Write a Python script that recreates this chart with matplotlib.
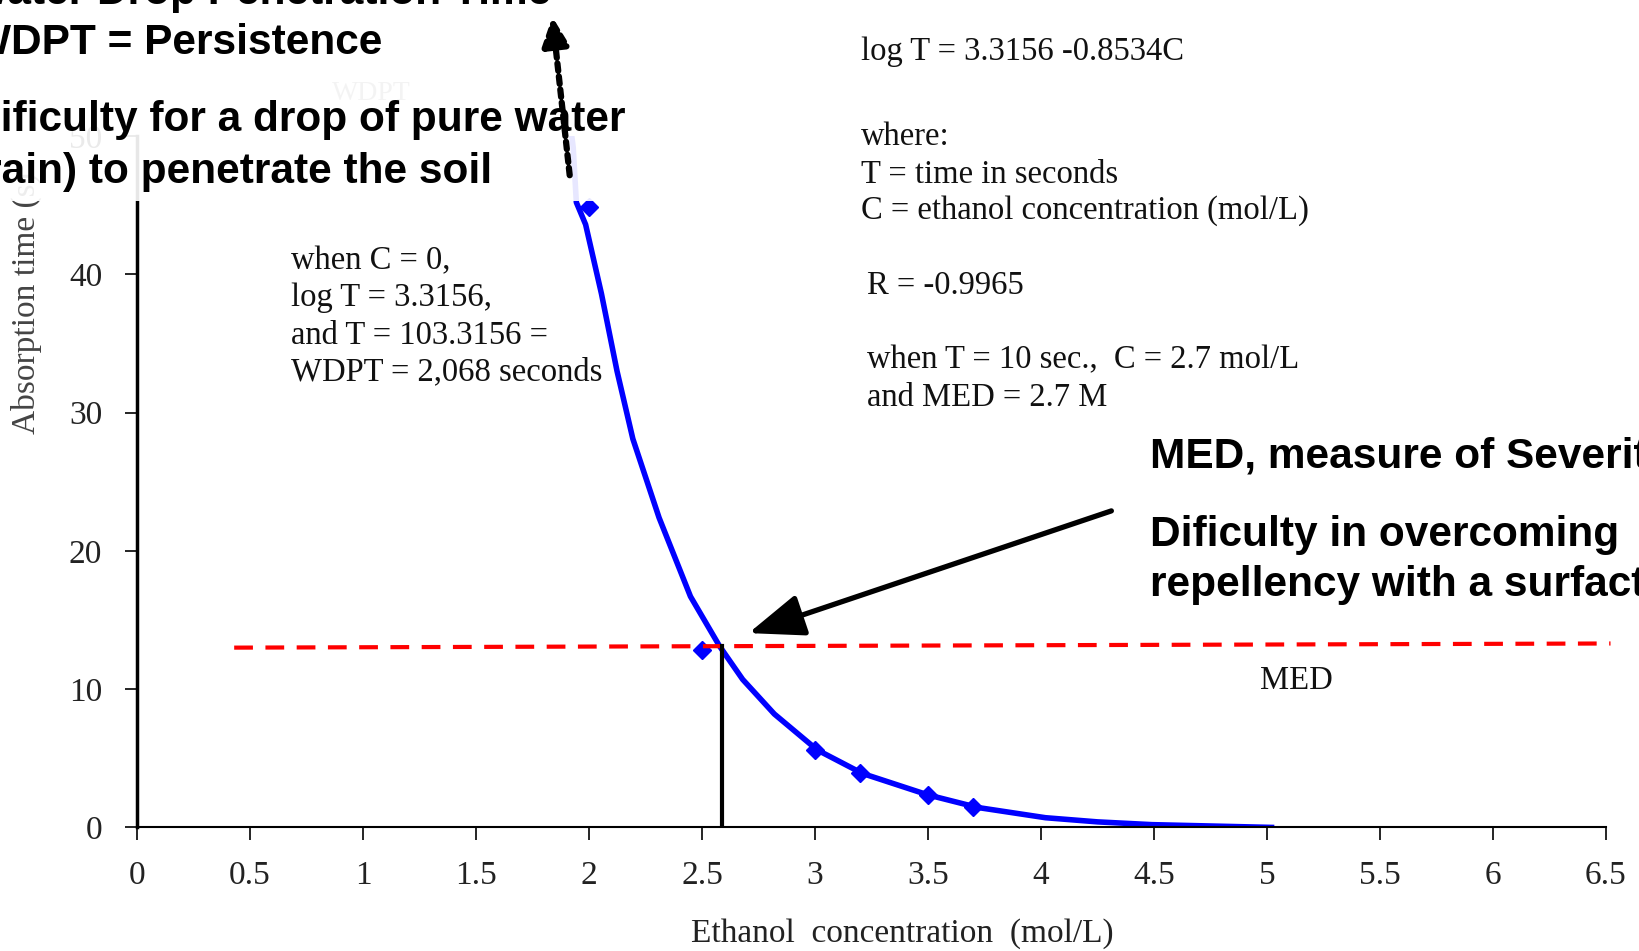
import numpy as np
import matplotlib.pyplot as plt
from matplotlib.patches import Rectangle, FancyArrowPatch

# fitted curve (C in mol/L, T in seconds)
curve_c = [1.90, 1.93, 1.944, 1.985, 2.055, 2.124, 2.194, 2.31, 2.449, 2.578,
           2.68, 2.82, 3.01, 3.21, 3.5, 3.72, 4.02, 4.25, 4.49, 5.02]
curve_t = [53.0, 49.2, 45.2, 43.6, 38.6, 33.0, 28.1, 22.4, 16.7, 13.1,
           10.7, 8.2, 5.6, 3.9, 2.35, 1.44, 0.7, 0.4, 0.2, 0.0]

# measured points
pts_c = [2.0, 2.5, 3.0, 3.2, 3.5, 3.7]
pts_t = [44.9, 12.8, 5.6, 3.9, 2.35, 1.5]

# MED line and drop line
med_c = [0.43, 6.52]
med_t = [13.0, 13.3]
med_x = 2.587

x_ticks = [0, 0.5, 1, 1.5, 2, 2.5, 3, 3.5, 4, 4.5, 5, 5.5, 6, 6.5]
x_labels = ['0', '0.5', '1', '1.5', '2', '2.5', '3', '3.5', '4', '4.5', '5', '5.5', '6', '6.5']
y_ticks = [0, 10, 20, 30, 40, 50]

W, H = 1640, 951


def fx(px):
    return px / W


def fy(py):
    return 1 - py / H


serif = 'Liberation Serif'
sans = 'Liberation Sans'

fig = plt.figure(figsize=(16.4, 9.51), dpi=100)
ax = fig.add_axes([fx(137), fy(827.4), 1469 / W, (827.4 - 136) / H])

ax.plot(curve_c, curve_t, color='#0000FF', lw=4, solid_joinstyle='round')
ax.plot(pts_c, pts_t, 'D', color='#0000FF', ms=9)
ax.plot(med_c, med_t, color='#FF0000', lw=3, dashes=(4.5, 3), clip_on=False)
ax.plot([med_x, med_x], [0, 13.1], color='black', lw=3)

ax.set_xlim(0, 6.5)
ax.set_ylim(0, 50)
ax.spines['top'].set_visible(False)
ax.spines['right'].set_visible(False)
ax.spines['left'].set_linewidth(2.5)
ax.spines['bottom'].set_linewidth(1.5)
ax.set_xticks(x_ticks)
ax.set_xticklabels(x_labels)
ax.set_yticks(y_ticks)
ax.tick_params(direction='out', length=9, width=1.2, labelsize=24,
               labelcolor='#222222')
ax.tick_params(axis='x', pad=15)
ax.tick_params(axis='y', pad=16)
for lab in ax.get_xticklabels() + ax.get_yticklabels():
    lab.set_family(serif)

# axis titles
fig.text(fx(902), fy(934), 'Ethanol  concentration  (mol/L)', family=serif,
         fontsize=24, color='#222222', ha='center', va='center')
fig.text(fx(26), fy(434), 'Absorption time (s)', family=serif, fontsize=24,
         color='#444444', rotation=90, ha='center', va='bottom')

# serif notes
notes = [
    (861, 60, 'log T = 3.3156 -0.8534C'),
    (861, 145, 'where:'),
    (861, 183, 'T = time in seconds'),
    (861, 219, 'C = ethanol concentration (mol/L)'),
    (867, 294, 'R = -0.9965'),
    (867, 368, 'when T = 10 sec.,  C = 2.7 mol/L'),
    (867, 406, 'and MED = 2.7 M'),
    (291, 269, 'when C = 0,'),
    (291, 306, 'log T = 3.3156,'),
    (291, 344, 'and T = 103.3156 ='),
    (291, 380, 'WDPT = 2,068 seconds'),
    (1260, 689, 'MED'),
]
for px, py, s in notes:
    fig.text(fx(px), fy(py), s, family=serif, fontsize=23.5, color='#111111',
             va='baseline')

# faint label under the white box
fig.text(fx(371), fy(94), 'WDPT', family=serif, fontsize=20, color='#888888',
         ha='center', va='center', zorder=4)

# white box over the upper left part
fig.add_artist(Rectangle((-0.01, fy(201)), fx(640) + 0.01, 201 / H + 0.01,
                         transform=fig.transFigure, facecolor='white',
                         edgecolor='none', alpha=0.91, zorder=5))

# bold captions, left block is placed by its right end
left_bold = [
    (551, 4, 'Water Drop Penetration Time'),
    (382, 54, 'WDPT = Persistence'),
    (626, 131, 'Dificulty for a drop of pure water'),
    (492, 183, '(rain) to penetrate the soil'),
]
for px, py, s in left_bold:
    fig.text(fx(px), fy(py), s, family=sans, fontsize=30.5, fontweight='bold',
             color='black', ha='right', va='baseline', zorder=6)

right_bold = [
    (1150, 468, 'MED, measure of Severity'),
    (1150, 546, 'Dificulty in overcoming'),
    (1150, 596, 'repellency with a surfactant'),
]
for px, py, s in right_bold:
    fig.text(fx(px), fy(py), s, family=sans, fontsize=30.5, fontweight='bold',
             color='black', va='baseline', zorder=6)

# arrows
fig.add_artist(FancyArrowPatch((fx(570), fy(178)), (fx(552), fy(14)),
                               transform=fig.transFigure,
                               arrowstyle='-|>,head_length=17,head_width=8',
                               mutation_scale=1, lw=4.5, linestyle=(0, (1.2, 0.9)),
                               color='black', zorder=6))
fig.add_artist(FancyArrowPatch((fx(1114), fy(510)), (fx(746), fy(634)),
                               transform=fig.transFigure,
                               arrowstyle='-|>,head_length=34,head_width=13',
                               mutation_scale=1, lw=3.8, color='black', zorder=6))

plt.savefig('out.png', dpi=100)
